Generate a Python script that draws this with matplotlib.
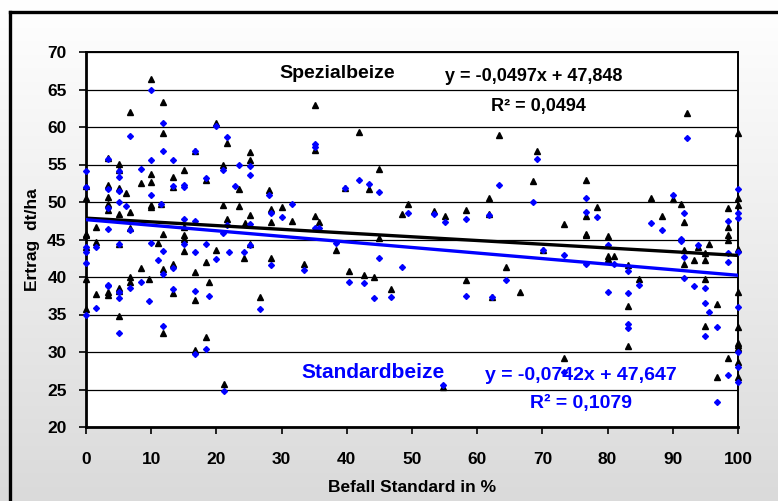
import numpy as np
import matplotlib.pyplot as plt
from matplotlib.lines import Line2D

plt.rcParams['font.family'] = ['Liberation Sans', 'DejaVu Sans']
plt.rcParams['font.weight'] = 'bold'

# Spezialbeize (black triangles): befall in %, yield in dt/ha
spez_x = [0, 0, 0, 0, 0, 0, 0,
          1.6, 1.6, 1.6,
          3.3, 3.3, 3.3, 3.3, 3.3, 3.3, 3.3,
          5.1, 5.1, 5.1, 5.1, 5.1, 5.1, 5.1, 5.1,
          6.2, 6.7, 6.7, 6.7, 6.7, 6.7,
          8.4, 8.4, 9.7,
          10.0, 10.0, 10.0, 10.0, 10.0,
          11.1, 11.5, 11.8, 11.8, 11.8, 11.8, 11.8,
          13.4, 13.4, 13.4, 13.4,
          15.0, 15.0, 15.0, 15.0, 15.0,
          16.7, 16.7, 16.7, 16.7,
          18.4, 18.4, 18.4, 18.8,
          20.0, 20.0, 21.0, 21.0, 21.1, 21.7, 21.7,
          23.4, 23.4, 24.3, 24.4,
          25.2, 25.2, 25.2, 25.2,
          26.7, 28.0, 28.4, 28.4, 28.4, 30.0, 31.6, 33.4,
          35.1, 35.1, 35.1, 35.7, 38.3, 39.8, 40.3, 41.8, 42.7, 43.4, 44.2,
          45.0, 45.0, 46.8, 48.5, 49.4, 53.3, 54.8, 55.1, 58.3, 58.3,
          61.8, 61.8, 62.3, 63.4, 64.4, 66.6, 68.5, 69.1, 70.1, 73.3, 73.3,
          76.7, 76.7, 76.7, 76.7, 78.4, 80.0, 80.0, 80.0, 81.0,
          83.1, 83.1, 83.1, 84.8, 86.7, 88.3, 90.1, 91.3,
          91.7, 91.7, 91.7, 92.2, 93.3, 93.9,
          95.0, 95.0, 95.0, 95.0, 95.6, 96.8, 96.8,
          98.4, 98.4, 98.4, 98.4, 98.4,
          100, 100, 100, 100, 100, 100, 100, 100, 100, 100, 100]
spez_y = [52.2, 50.6, 45.8, 45.6, 44.0, 39.8, 35.7,
          46.7, 44.7, 37.7,
          55.9, 52.3, 50.7, 49.8, 48.9, 38.0, 37.6,
          55.1, 54.3, 51.9, 48.4, 44.4, 38.5, 38.2, 34.8,
          51.2, 62.0, 48.7, 46.5, 40.0, 39.4,
          52.6, 41.2, 39.8,
          66.4, 53.7, 52.7, 49.6, 49.4,
          44.6, 49.8, 63.3, 59.2, 45.8, 41.1, 32.5,
          53.4, 52.0, 41.8, 37.9,
          54.3, 46.7, 45.6, 45.1, 43.5,
          56.8, 40.7, 37.0, 30.3,
          52.9, 42.0, 32.0, 39.3,
          60.5, 43.6, 55.0, 49.6, 25.7, 57.9, 47.8,
          51.7, 49.5, 42.5, 47.2,
          56.7, 55.6, 48.3, 44.4,
          37.4, 51.6, 49.1, 47.3, 42.5, 49.3, 47.5, 41.8,
          62.9, 56.9, 48.2, 47.4, 43.6, 51.9, 40.8, 59.3, 40.3, 51.7, 40.0,
          54.4, 45.2, 38.4, 48.4, 49.7, 48.8, 25.4, 48.2, 48.9, 39.6,
          50.5, 48.4, 37.4, 58.9, 41.3, 38.0, 52.8, 56.8, 43.6, 47.1, 29.2,
          53.0, 48.1, 45.7, 45.6, 49.4, 45.5, 42.8, 42.4, 42.8,
          41.6, 36.1, 30.8, 39.7, 50.5, 48.2, 50.4, 49.7,
          47.4, 43.6, 41.7, 61.9, 42.3, 44.0,
          43.2, 42.3, 39.8, 33.5, 44.4, 36.4, 26.7,
          49.2, 46.7, 45.6, 44.9, 29.2,
          59.2, 50.6, 49.6, 43.7, 38.0, 33.3, 31.2, 30.9, 30.6, 28.7, 26.7]

# Standardbeize (blue diamonds)
std_x = [0, 0, 0, 0, 0, 0,
         1.6, 1.6,
         3.3, 3.3, 3.3, 3.3, 3.3, 3.3,
         5.1, 5.1, 5.1, 5.1, 5.1, 5.1, 5.1, 5.1,
         6.2, 6.7, 6.7, 6.7, 8.4, 8.4, 9.7,
         10.0, 10.0, 10.0, 10.0, 11.1, 11.5,
         11.8, 11.8, 11.8, 11.8, 11.8,
         13.4, 13.4, 13.4, 13.4,
         15.0, 15.0, 15.0, 15.0,
         16.7, 16.7, 16.7, 16.7, 16.7,
         18.4, 18.4, 18.4, 18.8,
         20.0, 20.0, 21.0, 21.0, 21.1, 21.7, 21.7, 21.9, 22.9, 23.4, 24.3,
         25.2, 25.2, 25.2, 25.2,
         26.7, 28.0, 28.4, 28.4, 30.0, 31.6, 33.4,
         35.1, 35.1, 35.1, 35.7, 38.3, 39.8, 40.3, 41.8, 42.7, 43.4, 44.2,
         45.0, 45.0, 46.8, 48.5, 49.4, 53.3, 54.8, 55.1, 58.3, 58.3,
         61.8, 62.3, 63.4, 64.4, 68.5, 69.1, 70.1, 73.3, 73.3,
         76.7, 76.7, 76.7, 78.4, 80.0, 80.0, 81.0,
         83.1, 83.1, 83.1, 83.1, 84.8, 86.7, 88.3, 90.1, 91.3, 91.3,
         91.7, 91.7, 91.7, 92.2, 93.3, 93.9,
         95.0, 95.0, 95.0, 95.6, 96.8, 96.8,
         98.4, 98.4, 98.4, 98.4,
         100, 100, 100, 100, 100, 100, 100, 100]
std_y = [54.1, 52.0, 44.0, 43.3, 41.9, 34.9,
         44.0, 35.9,
         55.8, 51.8, 49.2, 46.4, 38.9, 38.8,
         54.1, 53.3, 51.5, 50.0, 44.4, 38.0, 37.2, 32.5,
         49.5, 58.8, 46.3, 38.6, 54.4, 39.3, 36.8,
         65.0, 55.6, 50.9, 44.6, 42.3, 49.8,
         60.6, 56.8, 43.5, 40.4, 33.5,
         55.6, 52.2, 41.2, 38.4,
         52.3, 52.0, 47.8, 44.4,
         56.8, 47.5, 43.3, 38.2, 29.8,
         53.2, 44.4, 30.4, 37.5,
         60.2, 42.4, 54.3, 45.9, 24.8, 58.7, 46.9, 43.3, 52.2, 55.0, 43.4,
         54.8, 53.6, 47.1, 44.3,
         35.8, 50.9, 48.5, 41.6, 48.0, 49.8, 41.0,
         57.7, 57.4, 46.5, 46.5, 44.6, 51.9, 39.3, 53.0, 39.2, 52.4, 37.2,
         51.3, 42.5, 37.3, 41.3, 48.5, 48.4, 25.6, 47.4, 47.8, 37.5,
         48.3, 37.4, 52.3, 39.6, 50.0, 55.7, 43.6, 43.0, 27.4,
         50.6, 48.7, 41.8, 48.0, 44.3, 38.0, 41.8,
         40.8, 37.9, 33.7, 33.2, 39.0, 47.2, 46.3, 50.9, 45.1, 44.8,
         48.5, 42.7, 39.9, 58.5, 38.8, 44.3,
         38.5, 36.6, 32.1, 35.4, 33.4, 23.4,
         47.5, 43.2, 42.0, 27.0,
         51.7, 48.5, 47.9, 43.3, 36.0, 30.0, 28.0, 26.0]

# linear trends (slope, intercept) as printed in the chart
spez_fit = (-0.0497, 47.848)
std_fit = (-0.0742, 47.647)

x_ticks = list(range(0, 101, 10))
y_ticks = list(range(20, 71, 5))

fig = plt.figure(figsize=(7.78, 5.01), dpi=100)

# gray gradient backdrop
bg = fig.add_axes([0, 0, 1, 1], zorder=-10)
grad = np.linspace(1.0, 0.855, 256).reshape(-1, 1)
bg.imshow(np.dstack([grad, grad, grad]), aspect='auto', extent=[0, 1, 0, 1],
          interpolation='bicubic')
bg.set_axis_off()

# chart frame
fig.add_artist(Line2D([9.5 / 778, 1], [1 - 12 / 501, 1 - 12 / 501], color='black',
                      lw=2.4, transform=fig.transFigure))
fig.add_artist(Line2D([9.5 / 778, 9.5 / 778], [1 - 12 / 501, 0], color='black',
                      lw=2.4, transform=fig.transFigure))

ax = fig.add_axes([86 / 778, 1 - 427 / 501, (738 - 86) / 778, (427 - 52) / 501])
ax.set_facecolor('white')

ax.plot(spez_x, spez_y, linestyle='none', marker='^', ms=4.5, color='black',
        zorder=3, clip_on=False)
ax.plot(std_x, std_y, linestyle='none', marker='D', ms=3.0, color='#0000ff',
        zorder=4, clip_on=False)

xs = np.array([0, 100])
ax.plot(xs, spez_fit[0] * xs + spez_fit[1], color='black', lw=2.4, zorder=5)
ax.plot(xs, std_fit[0] * xs + std_fit[1], color='#0000ff', lw=2.4, zorder=5)

ax.set_xlim(0, 100)
ax.set_ylim(20, 70)
ax.set_xticks(x_ticks)
ax.set_yticks(y_ticks)
ax.yaxis.grid(True, color='black', lw=0.9)
ax.set_axisbelow(True)
ax.tick_params(direction='out', length=5, width=1.2, labelsize=12.5)
ax.tick_params(axis='x', pad=13)
ax.tick_params(axis='y', pad=9)
for lab in ax.get_xticklabels() + ax.get_yticklabels():
    lab.set_fontweight('bold')
for side in ['left', 'bottom']:
    ax.spines[side].set_linewidth(2.0)
for side in ['top', 'right']:
    ax.spines[side].set_linewidth(1.4)

ax.set_xlabel('Befall Standard in %', fontsize=12.5, fontweight='bold', labelpad=9)
ax.set_ylabel('Ertrag  dt/ha', fontsize=12.5, fontweight='bold', labelpad=5)

ax.text(38.5, 67.2, 'Spezialbeize', fontsize=14, fontweight='bold',
        ha='center', va='center', color='black')
ax.text(55.1, 66.67, 'y = -0,0497x + 47,848', fontsize=13, fontweight='bold',
        ha='left', va='center', color='black')
ax.text(62.1, 62.67, 'R² = 0,0494', fontsize=13, fontweight='bold',
        ha='left', va='center', color='black')
ax.text(44.0, 27.33, 'Standardbeize', fontsize=15, fontweight='bold',
        ha='center', va='center', color='#0000ff')
ax.text(61.2, 26.8, 'y = -0,0742x + 47,647', fontsize=14, fontweight='bold',
        ha='left', va='center', color='#0000ff')
ax.text(68.1, 23.07, 'R² = 0,1079', fontsize=14, fontweight='bold',
        ha='left', va='center', color='#0000ff')

fig.savefig('out.png', dpi=100)
